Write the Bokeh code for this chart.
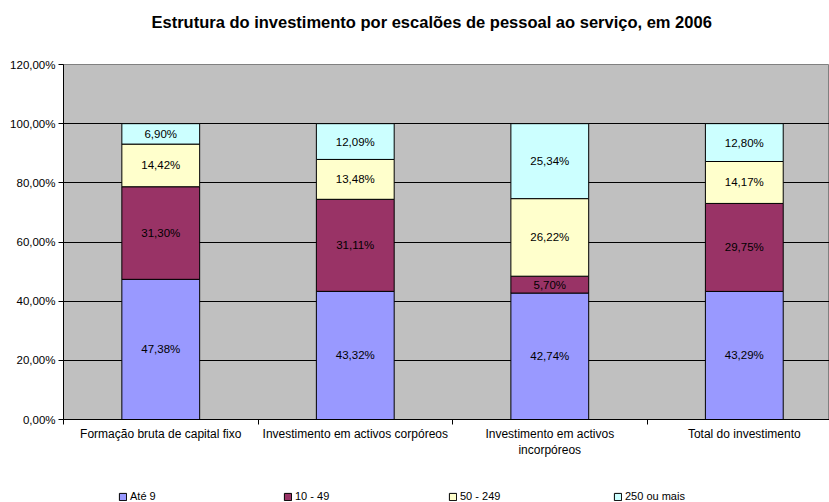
from bokeh.plotting import figure
from bokeh.layouts import column
from bokeh.models import (ColumnDataSource, FixedTicker, Range1d, Legend, LegendItem)
from bokeh.core.properties import value
from bokeh.embed import file_html
from bokeh.resources import INLINE

title_text = "Estrutura do investimento por escalões de pessoal ao serviço, em 2006"
categories = ["Formação bruta de capital fixo", "Investimento em activos corpóreos",
              "Investimento em activos\nincorpóreos", "Total do investimento"]
series_names = ["Até 9", "10 - 49", "50 - 249", "250 ou mais"]
ate9 = [47.38, 43.32, 42.74, 43.29]
s10_49 = [31.30, 31.11, 5.70, 29.75]
s50_249 = [14.42, 13.48, 26.22, 14.17]
s250 = [6.90, 12.09, 25.34, 12.80]
colors = ["#9999FF", "#993366", "#FFFFCC", "#CCFFFF"]
y_ticks = [0, 20, 40, 60, 80, 100, 120]
y_tick_labels = ["0,00%", "20,00%", "40,00%", "60,00%", "80,00%", "100,00%", "120,00%"]

FONT = "Liberation Sans"
W = 829
LEFT = 63  # frames of the stacked figures are aligned on the main chart's frame


def bare(height):
    f = figure(width=W, height=height, output_backend="svg", toolbar_location=None,
               x_range=Range1d(LEFT, W), y_range=Range1d(0, height),
               x_axis_type=None, y_axis_type=None,
               min_border=0, min_border_left=0, min_border_right=0,
               min_border_top=0, min_border_bottom=0)
    f.grid.grid_line_color = None
    f.outline_line_color = None
    f.background_fill_color = "#FFFFFF"
    f.border_fill_color = "#FFFFFF"
    return f


# ---- title strip ----
TH = 56
pt = bare(TH)
pt.text(x=[151], y=[35], text=[title_text], text_align="left",
        text_baseline="alphabetic", text_font=value(FONT), text_font_size="16.5px",
        text_font_style="bold", text_color="#000000")

# ---- main chart ----
xs = [i + 0.5 for i in range(len(categories))]
keys = ["a", "b", "c", "d"]
src = ColumnDataSource(dict(x=xs, a=ate9, b=s10_49, c=s50_249, d=s250))

p = figure(width=W, height=409, output_backend="svg", toolbar_location=None,
           x_range=Range1d(0, 3.938), y_range=Range1d(0, 120),
           min_border_left=LEFT, min_border_right=0, min_border_top=8,
           min_border_bottom=46)
p.background_fill_color = "#C0C0C0"
p.border_fill_color = "#FFFFFF"
p.outline_line_color = "#808080"

renderers = p.vbar_stack(keys, x="x", width=0.40, source=src, color=colors,
                         line_color="#000000", line_width=1)

all_series = [ate9, s10_49, s50_249, s250]
lx, ly, lt = [], [], []
for ci in range(len(categories)):
    base = 0.0
    for ser in all_series:
        v = ser[ci]
        lx.append(xs[ci])
        ly.append(base + v / 2)
        lt.append(("%.2f" % v).replace(".", ",") + "%")
        base += v
p.text(x=lx, y=ly, text=lt, text_align="center", text_baseline="middle",
       text_font=value(FONT), text_font_size="11.5px", text_color="#000000")

p.yaxis.ticker = FixedTicker(ticks=y_ticks)
p.yaxis.major_label_overrides = {t: l for t, l in zip(y_ticks, y_tick_labels)}
p.yaxis.major_label_text_font = FONT
p.yaxis.major_label_text_font_size = "11.5px"
p.yaxis.major_label_text_color = "#000000"
p.yaxis.major_tick_in = 0
p.yaxis.major_tick_out = 5
p.yaxis.minor_tick_line_color = None
p.yaxis.axis_line_color = "#000000"
p.yaxis.major_tick_line_color = "#000000"
p.yaxis.major_label_standoff = 3

p.xaxis.ticker = FixedTicker(ticks=xs, minor_ticks=[0, 1, 2, 3, 4])
p.xaxis.major_label_overrides = {x: c for x, c in zip(xs, categories)}
p.xaxis.major_label_text_font = FONT
p.xaxis.major_label_text_font_size = "12px"
p.xaxis.major_label_text_color = "#000000"
p.xaxis.major_tick_line_color = None
p.xaxis.major_tick_in = 0
p.xaxis.major_tick_out = 5
p.xaxis.minor_tick_in = 0
p.xaxis.minor_tick_out = 5
p.xaxis.minor_tick_line_color = "#000000"
p.xaxis.axis_line_color = "#000000"
p.xaxis.major_label_standoff = 2

p.xgrid.grid_line_color = None
p.ygrid.grid_line_color = "#000000"
p.ygrid.grid_line_alpha = 1.0

# ---- legend strip ----
LH = 37
pl = bare(LH)
# off-screen proxy renderers that only provide the legend swatches
leg_renderers = [pl.vbar(x=[-W], top=[0], width=1, fill_color=c, line_color="#000000")
                 for c in colors]
items = [LegendItem(label=n, renderers=[r]) for n, r in zip(series_names, leg_renderers)]
legend = Legend(items=items, orientation="horizontal", location=(118 - LEFT, 0),
                glyph_width=9, glyph_height=9, label_standoff=3, label_width=143,
                spacing=10, padding=0, margin=0, label_text_align="left",
                label_text_font=FONT, label_text_font_size="11px",
                label_text_color="#000000", border_line_color=None,
                background_fill_alpha=0)
pl.add_layout(legend)

layout = column(pt, p, pl, spacing=0)
open("out.html", "w").write(file_html(layout, INLINE))
